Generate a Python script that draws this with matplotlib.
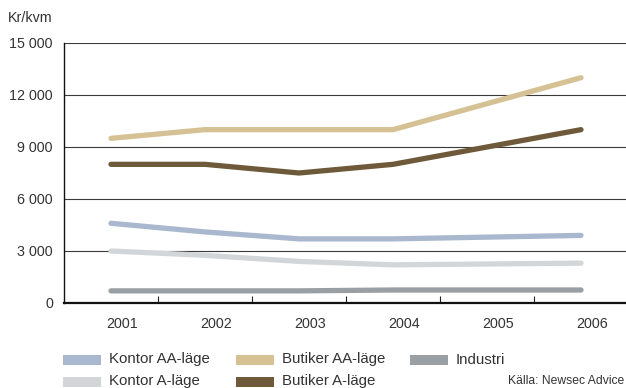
import matplotlib
matplotlib.use("Agg")
import matplotlib.pyplot as plt
from matplotlib.patches import Rectangle
from matplotlib.transforms import ScaledTranslation

plt.rcParams['font.family'] = ['Liberation Sans', 'DejaVu Sans']

years = ["2001", "2002", "2003", "2004", "2005", "2006"]
y_ticks = [0, 3000, 6000, 9000, 12000, 15000]
y_tick_labels = ["0", "3 000", "6 000", "9 000", "12 000", "15 000"]

series_names = ["Kontor AA-läge", "Butiker AA-läge", "Industri",
                "Kontor A-läge", "Butiker A-läge"]
kontor_aa = [4600, 4100, 3700, 3700, 3800, 3900]
butiker_aa = [9500, 10000, 10000, 10000, 11500, 13000]
industri = [700, 700, 700, 750, 750, 750]
kontor_a = [3000, 2750, 2400, 2200, 2250, 2300]
butiker_a = [8000, 8000, 7500, 8000, 9000, 10000]
series_values = [kontor_aa, butiker_aa, industri, kontor_a, butiker_a]
series_colors = ["#A9B7CF", "#D6C195", "#9A9FA4", "#D3D6D8", "#6E5A3A"]

TEXT = "#333333"
W, H, DPI = 626, 388, 100
fig = plt.figure(figsize=(W / DPI, H / DPI), dpi=DPI)


def fx(px):
    return px / W


def fy(py):
    return 1 - py / H


ax = fig.add_axes([fx(64), fy(303), fx(628) - fx(64), fy(43) - fy(303)])
x = list(range(len(years)))

# gridlines drawn first so the lines sit on top
for v in y_ticks[1:]:
    ax.axhline(v, color="#3a3a3a", lw=0.8, zorder=1)

# draw order keeps the light lines underneath the dark ones
order = [3, 0, 2, 1, 4]
for i in order:
    ax.plot(x, series_values[i], color=series_colors[i], lw=3.8,
            solid_capstyle="round", solid_joinstyle="round", zorder=2)

ax.set_xlim(-0.5, len(years) - 0.5)
ax.set_ylim(0, 15000)
ax.set_yticks(y_ticks)
ax.set_yticklabels(y_tick_labels)
ax.tick_params(axis="y", length=0, pad=8, labelsize=10.3, colors=TEXT)

# category boundaries carry the tick marks, labels sit at the centres
ax.set_xticks([i + 0.5 for i in x[:-1]])
ax.set_xticklabels([])
ax.tick_params(axis="x", which="major", direction="in", length=5,
               width=0.8, color="#222222")
ax.set_xticks(x, minor=True)
ax.set_xticklabels(years, minor=True)
ax.tick_params(axis="x", which="minor", length=0, pad=10, labelsize=10.3,
               labelcolor=TEXT)
for lbl in ax.get_xticklabels(minor=True):
    lbl.set_transform(lbl.get_transform() +
                      ScaledTranslation(11 / DPI, 0, fig.dpi_scale_trans))

for s in ["top", "right"]:
    ax.spines[s].set_visible(False)
ax.spines["left"].set_color("#111111")
ax.spines["left"].set_linewidth(1.0)
ax.spines["bottom"].set_color("#111111")
ax.spines["bottom"].set_linewidth(1.6)

fig.text(fx(8), fy(18), "Kr/kvm", ha="left", va="center", fontsize=10.3,
         color=TEXT)

# legend
col_x = [63, 236, 410]
row_y = [359.5, 381.5]
slots = [(0, 0), (1, 0), (2, 0), (0, 1), (1, 1)]
for (c, r), name, color in zip(slots, series_names, series_colors):
    fig.patches.append(Rectangle((fx(col_x[c]), fy(row_y[r] + 5)),
                                 fx(38), 10 / H, transform=fig.transFigure,
                                 facecolor=color, edgecolor="none"))
    fig.text(fx(col_x[c] + 46), fy(row_y[r]), name, ha="left", va="center",
             fontsize=10.8, color=TEXT)

fig.text(fx(624), fy(381.5), "Källa: Newsec Advice", ha="right", va="center",
         fontsize=8.7, color=TEXT)

fig.savefig("out.png", dpi=DPI)
